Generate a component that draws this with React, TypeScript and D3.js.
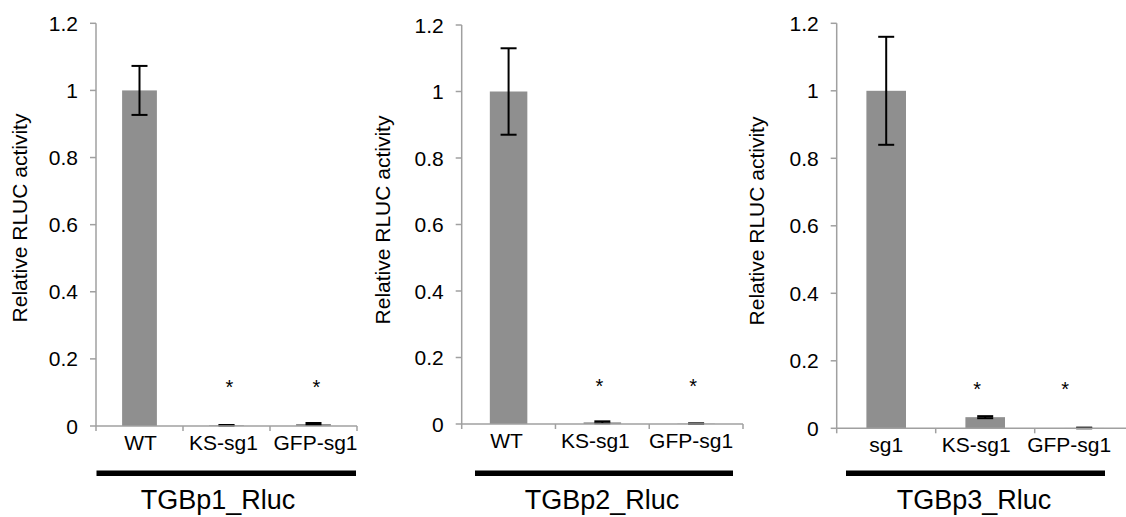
import React, { useEffect, useRef } from "react";
import * as d3 from "d3";

// values (relative RLUC activity, mean and error)
const categoriesA = ["WT", "KS-sg1", "GFP-sg1"];
const categoriesB = ["sg1", "KS-sg1", "GFP-sg1"];
const panelTitles = ["TGBp1_Rluc", "TGBp2_Rluc", "TGBp3_Rluc"];

const means1 = [1, 0.002, 0.006];
const errors1 = [0.073, 0.001, 0.003];
const means2 = [1, 0.005, 0.001];
const errors2 = [0.13, 0.003, 0.001];
const means3 = [1, 0.033, 0.001];
const errors3 = [0.16, 0.003, 0.001];

const significant = [false, true, true];
const starLevel = 0.13;

const yTicks = [0, 0.2, 0.4, 0.6, 0.8, 1, 1.2];
const yLabel = "Relative RLUC activity";

// panel frames (pixels); labelDx / starDx nudge the text like in the source figure
const panels = [
    { cats: categoriesA, means: means1, errors: errors1, x0: 96, x1: 357, yTop: 23.3, yZero: 426, labelX: 20, labelY: 218, lineX0: 96.5, lineX1: 356, titleX: 218, labelDx: [1, -3, 2], starDx: [0, 3, 3] },
    { cats: categoriesA, means: means2, errors: errors2, x0: 461.7, x1: 743, yTop: 25, yZero: 424, labelX: 383, labelY: 220, lineX0: 475, lineX1: 733, titleX: 602, labelDx: [-2, -7, -5], starDx: [0, -3, -3] },
    { cats: categoriesB, means: means3, errors: errors3, x0: 836.7, x1: 1133.7, yTop: 23.3, yZero: 428.3, labelX: 757, labelY: 221, lineX0: 846, lineX1: 1105, titleX: 974, labelDx: [0, -9, -15], starDx: [0, -8, -19] },
];

const FONT = "'Liberation Sans', Arial, Helvetica, sans-serif";

const App = () => {
    const container = useRef<HTMLDivElement>(null);

    useEffect(() => {
        const el = container.current;
        if (!el) return;
        el.innerHTML = "";

        const svg = d3.select(el)
            .append("svg")
            .attr("width", 1126)
            .attr("height", 517)
            .style("position", "absolute")
            .style("left", "0px")
            .style("top", "0px")
            .style("background", "#fff")
            .attr("font-family", FONT);

        panels.forEach((p, pi) => {
            const g = svg.append("g");

            const x = d3.scaleBand()
                .domain(p.cats)
                .range([p.x0, p.x1])
                .paddingInner(0.6)
                .paddingOuter(0.3);
            const step = x.step();

            const y = d3.scaleLinear()
                .domain([0, 1.2])
                .range([p.yZero, p.yTop]);

            // bars
            g.selectAll("rect.bar")
                .data(p.cats)
                .enter()
                .append("rect")
                .attr("x", (d) => x(d))
                .attr("y", (d, i) => y(p.means[i]))
                .attr("width", x.bandwidth())
                .attr("height", (d, i) => y(0) - y(p.means[i]))
                .attr("fill", "#8f8f8f");

            // error bars
            const cap = 8;
            p.cats.forEach((c, i) => {
                const cx = x(c) + x.bandwidth() / 2;
                const hi = y(p.means[i] + p.errors[i]);
                const lo = y(Math.max(0, p.means[i] - p.errors[i]));
                g.append("line").attr("x1", cx).attr("x2", cx).attr("y1", hi).attr("y2", lo)
                    .attr("stroke", "#000").attr("stroke-width", 2);
                g.append("line").attr("x1", cx - cap).attr("x2", cx + cap).attr("y1", hi).attr("y2", hi)
                    .attr("stroke", "#000").attr("stroke-width", 2);
                g.append("line").attr("x1", cx - cap).attr("x2", cx + cap).attr("y1", lo).attr("y2", lo)
                    .attr("stroke", "#000").attr("stroke-width", 2);
            });

            // significance stars
            p.cats.forEach((c, i) => {
                if (!significant[i]) return;
                g.append("text")
                    .attr("x", x(c) + x.bandwidth() / 2 + p.starDx[i])
                    .attr("y", y(starLevel) + 12)
                    .attr("text-anchor", "middle")
                    .attr("font-size", 20)
                    .attr("fill", "#000")
                    .text("*");
            });

            // y axis
            const axisColor = "#a0a0a0";
            g.append("line")
                .attr("x1", p.x0).attr("x2", p.x0)
                .attr("y1", y(1.2)).attr("y2", y(0))
                .attr("stroke", axisColor).attr("stroke-width", 1.5);
            yTicks.forEach((t) => {
                g.append("line")
                    .attr("x1", p.x0 - 6).attr("x2", p.x0)
                    .attr("y1", y(t)).attr("y2", y(t))
                    .attr("stroke", axisColor).attr("stroke-width", 1.5);
                g.append("text")
                    .attr("x", p.x0 - 18)
                    .attr("y", y(t) + 7.5)
                    .attr("text-anchor", "end")
                    .attr("font-size", 21)
                    .attr("fill", "#000")
                    .text(String(t));
            });

            // x axis
            g.append("line")
                .attr("x1", p.x0).attr("x2", p.x1)
                .attr("y1", y(0)).attr("y2", y(0))
                .attr("stroke", axisColor).attr("stroke-width", 1.5);
            for (let i = 0; i <= p.cats.length; i++) {
                const tx = p.x0 + i * step;
                g.append("line")
                    .attr("x1", tx).attr("x2", tx)
                    .attr("y1", y(0)).attr("y2", y(0) + 5)
                    .attr("stroke", axisColor).attr("stroke-width", 1.5);
            }
            p.cats.forEach((c, i) => {
                g.append("text")
                    .attr("x", x(c) + x.bandwidth() / 2 + p.labelDx[i])
                    .attr("y", y(0) + 23.5)
                    .attr("text-anchor", "middle")
                    .attr("font-size", 21)
                    .attr("fill", "#000")
                    .text(c);
            });

            // y axis title
            g.append("text")
                .attr("transform", `translate(${p.labelX + 7},${p.labelY}) rotate(-90)`)
                .attr("text-anchor", "middle")
                .attr("font-size", 21)
                .attr("fill", "#000")
                .text(yLabel);

            // group bar and title
            g.append("rect")
                .attr("x", p.lineX0)
                .attr("y", 470.5)
                .attr("width", p.lineX1 - p.lineX0)
                .attr("height", 5.5)
                .attr("fill", "#000");
            g.append("text")
                .attr("x", p.titleX)
                .attr("y", 509)
                .attr("text-anchor", "middle")
                .attr("font-size", 27)
                .attr("fill", "#000")
                .text(panelTitles[pi]);
        });
    }, []);

    return <div ref={container}></div>;
};

export default App;
